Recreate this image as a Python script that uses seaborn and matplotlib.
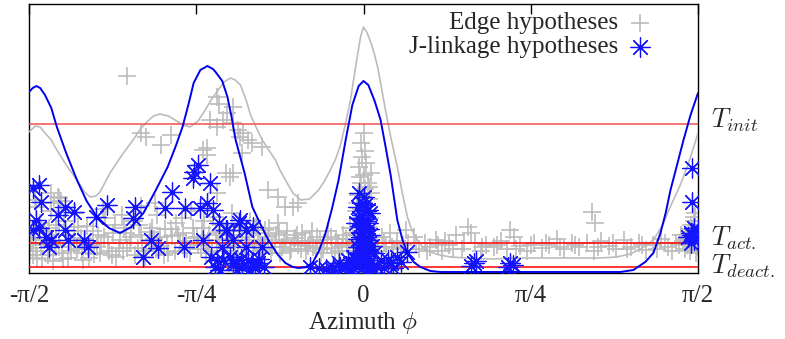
import matplotlib
matplotlib.use("Agg")
import matplotlib.pyplot as plt
import matplotlib.transforms as mtransforms
import seaborn as sns

# ── DATA (azimuth in degrees, score in arbitrary units) ──────────────────────
edge_curve_x = [-90, -88.3, -87.0, -85.7, -84.0, -82.5, -80.0, -77.1, -75.0, -73.6,
                -72.0, -70.9, -68.2, -65.0, -62.0, -60.0, -58.3, -56.5, -54.8, -52.5,
                -50.7, -48.5, -46.7, -44.5, -42.6, -41.0, -39.1, -37.5, -35.8, -34.5,
                -33.1, -31.5, -30.4, -28.8, -27.2, -25.5, -23.7, -22.5, -21.0, -19.0,
                -16.9, -14.5, -12.1, -10.5, -8.9, -7.5, -6.2, -4.8, -3.5, -2.5,
                -1.6, -0.8, 0.0, 1.0, 2.2, 3.0, 3.8, 4.8, 5.9, 7.5,
                9.1, 10.5, 11.8, 13.0, 14.5, 16.0, 18.0, 20.5, 23.4, 28.0,
                34.2, 42.2, 53.0, 63.7, 68.0, 71.8, 75.0, 78.0, 80.5, 82.5,
                85.0, 87.1, 88.5, 90.0]
edge_curve_y = [1.41, 1.47, 1.46, 1.40, 1.33, 1.23, 1.08, 0.93, 0.81, 0.76,
                0.77, 0.81, 1.00, 1.18, 1.33, 1.44, 1.51, 1.57, 1.59, 1.57,
                1.53, 1.48, 1.46, 1.52, 1.63, 1.73, 1.83, 1.91, 1.95, 1.93,
                1.88, 1.72, 1.58, 1.45, 1.33, 1.23, 1.13, 1.03, 0.93, 0.80,
                0.73, 0.74, 0.83, 0.92, 1.03, 1.14, 1.28, 1.50, 1.73, 1.97,
                2.18, 2.36, 2.46, 2.40, 2.28, 2.18, 2.06, 1.86, 1.63, 1.33,
                1.06, 0.79, 0.56, 0.43, 0.33, 0.26, 0.21, 0.18, 0.16, 0.15,
                0.14, 0.15, 0.15, 0.15, 0.16, 0.19, 0.25, 0.33, 0.48, 0.66,
                0.86, 1.06, 1.22, 1.40]

jl_curve_x = [-90, -89.0, -88.0, -87.0, -85.7, -84.0, -82.5, -80.0, -77.1, -74.5,
              -71.7, -68.5, -65.5, -62.5, -59.2, -56.0, -52.7, -50.5, -48.7, -47.0,
              -45.7, -43.9, -42.0, -40.5, -39.8, -38.0, -36.6, -35.5, -34.4, -32.0,
              -29.9, -27.5, -25.6, -23.0, -21.0, -19.0, -17.5, -15.5, -13.7, -12.0,
              -10.2, -8.5, -6.7, -4.8, -3.0, -1.3, 0.0, 1.3, 3.0, 4.6,
              6.0, 7.3, 9.1, 10.5, 11.8, 13.5, 15.3, 18.0, 20.7, 69.1,
              72.6, 75.8, 78.0, 79.9, 81.3, 82.6, 84.5, 86.1, 88.0, 90.0]
jl_curve_y = [1.81, 1.85, 1.87, 1.85, 1.78, 1.65, 1.46, 1.20, 0.93, 0.72,
              0.56, 0.45, 0.40, 0.46, 0.60, 0.82, 1.06, 1.27, 1.46, 1.70,
              1.90, 2.03, 2.07, 2.04, 2.01, 1.92, 1.76, 1.56, 1.33, 1.00,
              0.66, 0.47, 0.33, 0.18, 0.10, 0.06, 0.05, 0.06, 0.10, 0.22,
              0.40, 0.64, 0.93, 1.33, 1.68, 1.87, 1.92, 1.88, 1.72, 1.53,
              1.25, 0.98, 0.53, 0.33, 0.20, 0.11, 0.06, 0.02, 0.01, 0.01,
              0.03, 0.11, 0.20, 0.40, 0.60, 0.83, 1.10, 1.33, 1.58, 1.80]

edge_x = [-63.5, -60.0, -58.6, -51.9, -54.6, -39.3, -39.0, -41.2, -39.3, -37.7,
          -36.6, -35.2, -35.0, -33.9, -33.1, -32.3, -31.2, -42.0, -42.0, -35.8,
          -35.0, -39.3, -43.3, -37.1, -32.6, -29.9, -27.2, -25.6, -22.9, -21.0,
          -19.1, -17.5, -26.4, -22.9, -82.3, -84.2, -83.4, -82.0, -88.4,
          # left band
          -89.5, -89.0, -88.5, -88.0, -87.0, -86.5, -86.0, -85.0, -84.5, -83.5,
          -83.0, -82.0, -81.0, -80.5, -79.5, -79.0, -78.0, -77.0, -76.0, -75.5,
          -74.5, -73.5, -72.5, -71.5, -70.5, -69.5, -68.5, -67.5, -66.5, -65.5,
          -64.5, -63.5, -62.5, -61.5, -60.5, -59.5, -58.5, -57.5, -56.5, -55.5,
          -54.5, -53.5, -52.5, -51.5, -50.5, -49.5, -48.5, -47.5, -46.5, -45.5,
          -84.0, -81.5, -77.5, -70.0, -65.0, -60.0, -56.0, -88.0,
          -89.8, -88.8, -87.8, -86.8, -85.8, -84.8, -83.8, -82.8, -81.8, -80.8,
          -79.8, -78.8, -77.8, -76.8, -75.8, -74.8, -73.8, -72.8, -71.8, -70.8,
          -69.8, -68.8, -67.8, -66.8, -65.8, -64.8, -63.8, -62.8, -61.8, -60.8,
          -59.8, -58.8, -57.8, -56.8, -55.8, -54.8, -53.8, -52.8, -51.8, -50.8,
          -49.8, -48.8, -47.8, -46.8, -45.8,
          # middle band
          -44.5, -43.5, -42.5, -41.5, -40.5, -39.5, -38.5, -37.5, -36.5, -35.5,
          -34.5, -33.5, -32.5, -31.5, -30.5, -29.5, -28.5, -27.5, -26.5, -25.5,
          -24.5, -23.5, -22.5, -21.5, -20.5, -19.5, -18.5, -17.5, -16.5, -15.5,
          -14.5, -13.5, -12.5, -11.5, -10.5, -9.5, -8.5, -7.5, -6.5, -5.5,
          -4.5, -3.5, -2.5,
          -44.8, -43.8, -42.8, -41.8, -40.8, -39.8, -38.8, -37.8, -36.8, -35.8,
          -34.8, -33.8, -32.8, -31.8, -30.8, -29.8, -28.8, -27.8, -26.8, -25.8,
          -24.8, -23.8, -22.8, -21.8, -20.8, -19.8, -18.8, -17.8, -16.8, -15.8,
          -14.8, -13.8, -12.8, -11.8, -10.8, -9.8, -8.8, -7.8, -6.8, -5.8,
          -4.8, -3.8, -2.8,
          # column at zero
          0.0, 0.5, -0.5, -1.3, 1.9, 1.1, -0.8, 0.3, -1.5, 1.4,
          0.0, -0.6, 0.9, -1.2, 0.4, 1.6, -0.3, -1.7, 0.7, 1.3,
          -0.9, 0.2, 2.0, -1.4, 0.6, -0.4, 1.8, -2.0, 2.4, -2.3,
          -0.7, 0.8, -1.0, 1.5, 0.1, -1.8, 2.1, -0.2, 1.0, -1.1,
          0.5, -0.1,
          # right band
          3.0, 4.0, 5.0, 6.0, 7.0, 8.0, 9.0, 10.0, 11.5, 12.0,
          13.5, 15.0, 16.5, 18.0, 19.5, 21.0, 23.0, 25.0, 26.5, 28.0,
          29.0, 30.0, 31.5, 33.0, 35.0, 37.0, 38.5, 39.5, 40.5, 42.0,
          44.0, 46.0, 48.0, 50.0, 52.0, 54.0, 56.0, 58.0, 60.0, 62.0,
          61.5, 62.3, 64.0, 66.0, 68.0, 70.0, 72.0, 74.0, 76.0, 78.0,
          80.0, 82.0, 84.0, 85.5, 86.5, 87.5, 88.5, 89.0, 89.5, 88.0,
          87.0, 89.5, 86.0, 88.8,
          3.5, 5.5, 7.8, 10.5, 14.0, 17.0, 20.0, 22.0, 24.0, 27.0,
          32.0, 36.0, 41.0, 45.0, 49.0, 53.0, 57.0, 63.0, 67.0, 71.0,
          75.0, 79.0, 81.0, 83.0, 85.0, 86.8, 87.8, 88.6, 89.3, 89.8,
          88.2, 87.4, 89.1, 89.6]
edge_y = [1.97, 1.40, 1.36, 1.38, 1.28, 1.76, 1.69, 1.53, 1.46, 1.53,
          1.60, 1.66, 1.50, 1.43, 1.36, 1.40, 1.33, 1.25, 1.18, 0.96,
          1.00, 0.80, 1.23, 1.00, 1.20, 1.30, 1.26, 0.83, 0.76, 0.66,
          0.66, 0.70, 0.43, 0.50, 0.76, 0.80, 0.70, 0.75, 0.73,
          0.30, 0.18, 0.40, 0.25, 0.50, 0.14, 0.33, 0.22, 0.45, 0.12,
          0.28, 0.38, 0.20, 0.52, 0.15, 0.30, 0.42, 0.24, 0.35, 0.13,
          0.47, 0.28, 0.19, 0.38, 0.30, 0.55, 0.22, 0.40, 0.16, 0.33,
          0.45, 0.25, 0.36, 0.18, 0.48, 0.30, 0.22, 0.41, 0.34, 0.58,
          0.27, 0.44, 0.20, 0.37, 0.50, 0.30, 0.40, 0.24, 0.62, 0.35,
          0.62, 0.72, 0.60, 0.64, 0.58, 0.67, 0.70, 0.66,
          0.22, 0.35, 0.15, 0.28, 0.42, 0.18, 0.32, 0.48, 0.26, 0.14,
          0.38, 0.22, 0.30, 0.46, 0.20, 0.34, 0.15, 0.42, 0.26, 0.20,
          0.36, 0.30, 0.18, 0.48, 0.25, 0.22, 0.40, 0.30, 0.52, 0.25,
          0.38, 0.16, 0.30, 0.45, 0.24, 0.36, 0.18, 0.30, 0.44, 0.22,
          0.38, 0.55, 0.32, 0.20, 0.45,
          0.28, 0.45, 0.20, 0.38, 0.56, 0.30, 0.42, 0.22, 0.34, 0.60,
          0.27, 0.46, 0.18, 0.36, 0.52, 0.28, 0.40, 0.22, 0.33, 0.45,
          0.26, 0.38, 0.20, 0.31, 0.42, 0.24, 0.35, 0.28, 0.40, 0.22,
          0.32, 0.26, 0.36, 0.20, 0.30, 0.42, 0.25, 0.34, 0.22, 0.38,
          0.28, 0.45, 0.32,
          0.36, 0.24, 0.52, 0.30, 0.22, 0.40, 0.33, 0.48, 0.25, 0.38,
          0.20, 0.30, 0.42, 0.26, 0.33, 0.22, 0.46, 0.30, 0.24, 0.36,
          0.20, 0.30, 0.40, 0.26, 0.33, 0.22, 0.30, 0.38, 0.24, 0.32,
          0.27, 0.42, 0.25, 0.33, 0.24, 0.30, 0.36, 0.20, 0.30, 0.26,
          0.34, 0.22, 0.40,
          1.40, 1.22, 1.16, 1.06, 1.00, 0.90, 0.90, 0.84, 0.78, 0.74,
          0.70, 0.64, 0.60, 0.55, 0.50, 0.46, 0.42, 0.38, 0.35, 0.30,
          0.27, 0.22, 0.20, 0.17, 0.13, 0.10, 0.55, 0.62, 0.36, 0.25,
          1.30, 1.10, 0.96, 0.86, 0.98, 0.70, 0.80, 0.76, 0.68, 0.46,
          0.40, 0.32,
          0.30, 0.22, 0.36, 0.26, 0.40, 0.24, 0.32, 0.20, 0.43, 0.30,
          0.36, 0.24, 0.30, 0.26, 0.33, 0.22, 0.28, 0.38, 0.24, 0.46,
          0.40, 0.30, 0.22, 0.28, 0.26, 0.32, 0.24, 0.43, 0.36, 0.27,
          0.22, 0.30, 0.25, 0.28, 0.34, 0.24, 0.30, 0.26, 0.30, 0.22,
          0.61, 0.50, 0.32, 0.27, 0.24, 0.33, 0.26, 0.30, 0.23, 0.28,
          0.34, 0.26, 0.30, 0.38, 0.24, 0.44, 0.30, 0.52, 0.20, 0.36,
          0.28, 0.40, 0.32, 0.56,
          0.26, 0.30, 0.26, 0.28, 0.30, 0.22, 0.28, 0.32, 0.24, 0.30,
          0.26, 0.28, 0.24, 0.28, 0.30, 0.26, 0.28, 0.26, 0.30, 0.24,
          0.28, 0.24, 0.30, 0.22, 0.28, 0.34, 0.22, 0.42, 0.30, 0.26,
          0.48, 0.38, 0.60, 0.34]

jl_x = [-89.0, -87.4, -86.9, -88.2, -89.0, -87.4, -85.5, -84.2, -84.7, -82.3,
        -80.2, -78.0, -80.2, -79.4, -75.3, -74.2, -72.1, -68.9, -61.4, -61.9,
        -57.3, -59.2, -55.2, -51.4, -53.3, -47.9, -48.4, -45.7, -44.4, -46.0,
        -43.3, -43.9, -41.2, -42.0, -40.4, -39.0, -36.6, -33.1, -29.6, -39.3,
        -35.0, -31.2, -28.5, -26.9, -38.0, -35.2, -31.7, -27.2, -37.9, -34.4,
        -32.6, -29.1, -33.6, -31.7, -37.1,
        -41.0, -40.0, -36.0, -33.0, -30.0, -38.5, -34.0, -30.5, -28.0,
        -14.3, -8.3, -6.7, -4.8, -8.1, -6.2, -4.3, -12.0, -10.0, -3.5, -2.8,
        0.0, -1.3, 1.1, -0.5, 0.8, -1.0, 1.5, 0.2, -0.8, 1.2,
        0.0, -1.4, 0.9, -0.3, 1.6, -1.1, 0.4, -0.6, 1.9, -2.5,
        2.2, -2.0, 0.5, -0.2, 1.0,
        -0.4, 0.6, -1.2, 1.3, 0.1, -0.7, 1.7, -1.6, 0.3, 1.1,
        -0.9, 0.7, -1.8, 1.4, -0.1, 2.4, -2.9, 0.8, -0.5, 1.8,
        -1.5, 0.2,
        2.7, 4.6, 7.3, 11.8, 9.1, 10.0, 6.5, 3.6, 5.5, 8.0,
        29.6, 29.0, 30.3, 39.5, 40.2, 39.0,
        88.5, 88.5, 88.0, 89.9, 87.2, 88.8, 88.0, 89.9, 89.0, 88.5]
jl_y = [0.85, 0.88, 0.71, 0.53, 0.43, 0.45, 0.36, 0.33, 0.26, 0.58,
        0.66, 0.61, 0.43, 0.33, 0.33, 0.26, 0.56, 0.68, 0.66, 0.55,
        0.33, 0.16, 0.25, 0.81, 0.65, 0.65, 0.26, 1.01, 1.08, 0.95,
        0.33, 0.65, 0.90, 0.70, 0.63, 0.50, 0.43, 0.53, 0.46, 0.13,
        0.10, 0.13, 0.10, 0.06, 0.26, 0.33, 0.26, 0.26, 0.13, 0.10,
        0.06, 0.05, 0.50, 0.43, 0.43,
        0.16, 0.06, 0.16, 0.14, 0.10, 0.03, 0.03, 0.03, 0.14,
        0.06, 0.06, 0.10, 0.06, 0.03, 0.06, 0.13, 0.05, 0.04, 0.04, 0.16,
        0.76, 0.80, 0.63, 0.58, 0.52, 0.47, 0.44, 0.40, 0.36, 0.33,
        0.30, 0.26, 0.23, 0.19, 0.15, 0.12, 0.08, 0.04, 0.05, 0.09,
        0.27, 0.50, 0.68, 0.14, 0.02,
        0.70, 0.62, 0.55, 0.50, 0.46, 0.41, 0.38, 0.34, 0.28, 0.24,
        0.20, 0.17, 0.14, 0.10, 0.06, 0.04, 0.05, 0.36, 0.28, 0.60,
        0.66, 0.54,
        0.20, 0.13, 0.10, 0.21, 0.16, 0.11, 0.13, 0.06, 0.05, 0.05,
        0.10, 0.07, 0.12, 0.10, 0.08, 0.06,
        1.05, 0.71, 0.40, 0.43, 0.36, 0.33, 0.30, 0.36, 0.45, 0.38]

threshold_names = ["$T_{init}$", "$T_{act.}$", "$T_{deact.}$"]
threshold_values = [1.49, 0.30, 0.06]
label_baselines = [1.45, 0.27, -0.01]
tick_pos = [-90, -45, 0, 45, 90]
tick_labels = ["-π/2", "-π/4", "0", "π/4", "π/2"]

# ── STYLE ────────────────────────────────────────────────────────────────────
sns.set_theme(style="white")
plt.rcParams["font.family"] = ["Liberation Serif", "DejaVu Serif"]
plt.rcParams["mathtext.fontset"] = "cm"

fig = plt.figure(figsize=(7.85, 3.39), dpi=100)
ax = fig.add_axes([29 / 785, 1 - 273 / 339, 669 / 785, 269 / 339])

gray = "#bcbcbc"
blue = "#1414ff"

sns.scatterplot(x=edge_x, y=edge_y, marker="+", s=160, color=gray, linewidth=1.2,
                label="Edge hypotheses", ax=ax, zorder=2)
sns.lineplot(x=edge_curve_x, y=edge_curve_y, color=gray, linewidth=1.2, ax=ax,
             estimator=None, zorder=3)

blend = mtransforms.blended_transform_factory(ax.transAxes, ax.transData)
for name, val, yb in zip(threshold_names, threshold_values, label_baselines):
    ax.axhline(val, color="#f05050" if name == "$T_{init}$" else "red",
               linewidth=1.1, zorder=3.5)
    ax.text(1.02, yb, name, transform=blend, fontsize=19, va="baseline",
            ha="left", clip_on=False)

sns.scatterplot(x=jl_x, y=jl_y, marker=(8, 2, 0), s=190, color=blue, linewidth=0.9,
                label="J-linkage hypotheses", ax=ax, zorder=4)
sns.lineplot(x=jl_curve_x, y=jl_curve_y, color="#0000f0", linewidth=1.4, ax=ax,
             estimator=None, zorder=5)

ax.set_xlim(-90, 90)
ax.set_ylim(0, 2.69)
ax.set_yticks([])
ax.set_xticks(tick_pos)
ax.set_xticklabels(tick_labels, fontsize=18)
ax.tick_params(axis="x", direction="in", length=7, width=1, top=True, pad=9, color="black")
ax.set_xlabel("Azimuth $\\phi$", fontsize=18, labelpad=2)
for sp in ax.spines.values():
    sp.set_color("black")
    sp.set_linewidth(1.0)

ax.legend(loc="upper right", bbox_to_anchor=(0.935, 0.98), markerfirst=False,
          frameon=False, fontsize=18, handlelength=1.0, handletextpad=0.35,
          labelspacing=0.05, borderaxespad=0.0, borderpad=0.1)

plt.savefig("out.png", dpi=100)
plt.close()
